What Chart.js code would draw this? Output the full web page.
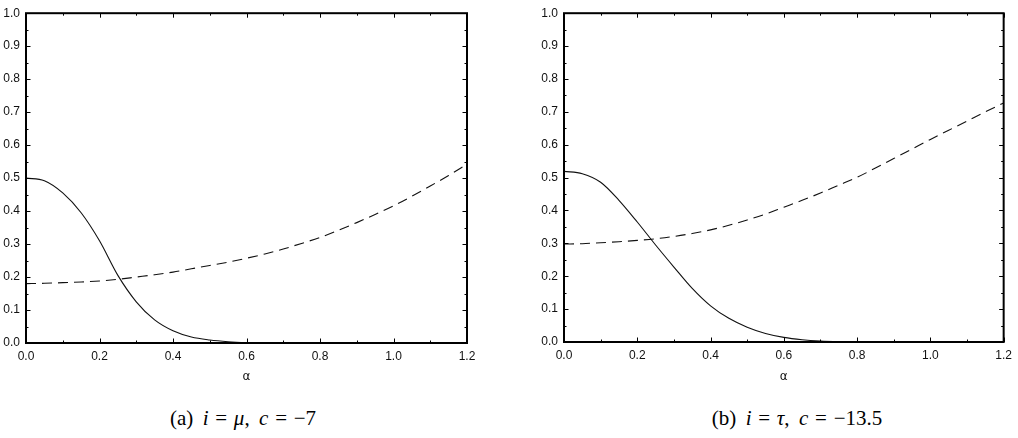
<!DOCTYPE html>
<html>
<head>
<meta charset="utf-8">
<script src="https://cdn.jsdelivr.net/npm/chart.js@4/dist/chart.umd.min.js"></script>
<style>
  html, body { margin:0; padding:0; background:#fff; }
  #wrap { position:relative; width:1018px; height:438px; overflow:hidden; }
  canvas { position:absolute; top:0; }
  .cap { position:absolute; top:406px; font-family:"Liberation Serif","DejaVu Serif",serif; font-size:21px; line-height:24px; color:#000; white-space:nowrap; transform:translateX(-50%); }
  .cap i { font-style:italic; }
  .rel { margin:0 0.32em; }
  .sp { display:inline-block; width:0.45em; }
</style>
</head>
<body>
<div id="wrap">
  <canvas id="cA" width="509" height="395" style="left:0px"></canvas>
  <canvas id="cB" width="480" height="395" style="left:538px"></canvas>
  <div class="cap" style="left:243px">(a)<span class="sp"></span><i>i</i><span class="rel">=</span><i>μ</i>,<span class="sp"></span><i>c</i><span class="rel">=</span>−7</div>
  <div class="cap" style="left:797px">(b)<span class="sp"></span><i>i</i><span class="rel">=</span><i>τ</i>,<span class="sp"></span><i>c</i><span class="rel">=</span>−13.5</div>
</div>
<script>
// ---- data ----
const alpha = [0,0.05,0.1,0.15,0.2,0.25,0.3,0.35,0.4,0.45,0.5,0.55,0.6,0.65,0.7,0.75,0.8,0.85,0.9,0.95,1.0,1.05,1.1,1.15,1.2];
const solidA  = [0.500,0.492,0.455,0.395,0.310,0.205,0.125,0.070,0.037,0.018,0.009,0.004,0.0015,0.0005,0,0,0,0,0,0,0,0,0,0,0];
const dashedA = [0.180,0.181,0.183,0.185,0.188,0.193,0.200,0.207,0.215,0.225,0.235,0.245,0.257,0.270,0.285,0.302,0.320,0.342,0.365,0.390,0.416,0.445,0.476,0.508,0.542];
const solidB  = [0.519,0.512,0.486,0.431,0.365,0.295,0.228,0.163,0.110,0.072,0.045,0.026,0.014,0.007,0.003,0.001,0,0,0,0,0,0,0,0,0];
const dashedB = [0.298,0.299,0.302,0.305,0.309,0.314,0.321,0.330,0.341,0.355,0.371,0.389,0.410,0.431,0.453,0.477,0.501,0.529,0.558,0.587,0.616,0.644,0.672,0.700,0.727];
const xTicks = [0,0.2,0.4,0.6,0.8,1.0,1.2];
const xMinor = [0.1,0.3,0.5,0.7,0.9,1.1];
const yTicks = [0,0.1,0.2,0.3,0.4,0.5,0.6,0.7,0.8,0.9,1.0];
const yMinor = [0.05,0.15,0.25,0.35,0.45,0.55,0.65,0.75,0.85,0.95];
const xTitle = 'α';

const framePlugin = {
  id: 'frame',
  afterDatasetsDraw(chart) {
    const {ctx, chartArea: {left, right, top, bottom}, scales: {x, y}} = chart;
    ctx.save();
    ctx.strokeStyle = '#000';
    ctx.lineWidth = 1;
    const maj = 4.5, mn = 2.5;
    ctx.beginPath();
    xTicks.forEach(v => { const p = Math.round(x.getPixelForValue(v)) + 0.5;
      ctx.moveTo(p, bottom); ctx.lineTo(p, bottom - maj); ctx.moveTo(p, top); ctx.lineTo(p, top + maj); });
    xMinor.forEach(v => { const p = Math.round(x.getPixelForValue(v)) + 0.5;
      ctx.moveTo(p, bottom); ctx.lineTo(p, bottom - mn); ctx.moveTo(p, top); ctx.lineTo(p, top + mn); });
    yTicks.forEach(v => { const p = Math.round(y.getPixelForValue(v)) + 0.5;
      ctx.moveTo(left, p); ctx.lineTo(left + maj, p); ctx.moveTo(right, p); ctx.lineTo(right - maj, p); });
    yMinor.forEach(v => { const p = Math.round(y.getPixelForValue(v)) + 0.5;
      ctx.moveTo(left, p); ctx.lineTo(left + mn, p); ctx.moveTo(right, p); ctx.lineTo(right - mn, p); });
    ctx.stroke();
    ctx.lineWidth = 2;
    ctx.strokeRect(left, top, right - left, bottom - top);
    ctx.restore();
  }
};

function makeChart(id, solid, dashed, pad, yW, xH) {
  const pts = arr => alpha.map((a, i) => ({x: a, y: arr[i]}));
  return new Chart(document.getElementById(id), {
    type: 'line',
    data: {
      datasets: [
        {data: pts(solid), borderColor: '#111', borderWidth: 1.1, pointRadius: 0, cubicInterpolationMode: 'monotone', fill: false},
        {data: pts(dashed), borderColor: '#111', borderWidth: 1.1, borderDash: [10, 6], pointRadius: 0, cubicInterpolationMode: 'monotone', fill: false}
      ]
    },
    options: {
      responsive: false,
      animation: false,
      devicePixelRatio: 1,
      layout: {padding: pad},
      plugins: {legend: {display: false}, tooltip: {enabled: false}},
      scales: {
        x: {
          type: 'linear', min: 0, max: 1.2,
          grid: {display: false, drawTicks: false},
          border: {display: false},
          afterBuildTicks: s => { s.ticks = xTicks.map(v => ({value: v})); },
          afterFit: s => { s.height = xH; },
          ticks: {color: '#111', font: {family: 'Liberation Sans, Arial, sans-serif', size: 12}, padding: 6,
                  maxRotation: 0, autoSkip: false, callback: v => Number(v).toFixed(1)},
          title: {display: true, text: xTitle, color: '#111', font: {family: 'DejaVu Sans, sans-serif', size: 12}, padding: {top: 0, bottom: 11}}
        },
        y: {
          type: 'linear', min: 0, max: 1.0,
          grid: {display: false, drawTicks: false},
          border: {display: false},
          afterBuildTicks: s => { s.ticks = yTicks.map(v => ({value: v})); },
          afterFit: s => { s.width = yW; },
          ticks: {color: '#111', font: {family: 'Liberation Sans, Arial, sans-serif', size: 12}, padding: 6,
                  autoSkip: false, callback: v => Number(v).toFixed(1)}
        }
      }
    },
    plugins: [framePlugin]
  });
}

makeChart('cA', solidA, dashedA, {top: 11, right: 42, bottom: 0, left: 0}, 26, 52);
makeChart('cB', solidB, dashedB, {top: 9, right: 12, bottom: 0, left: 0}, 26, 53);
</script>
</body>
</html>
